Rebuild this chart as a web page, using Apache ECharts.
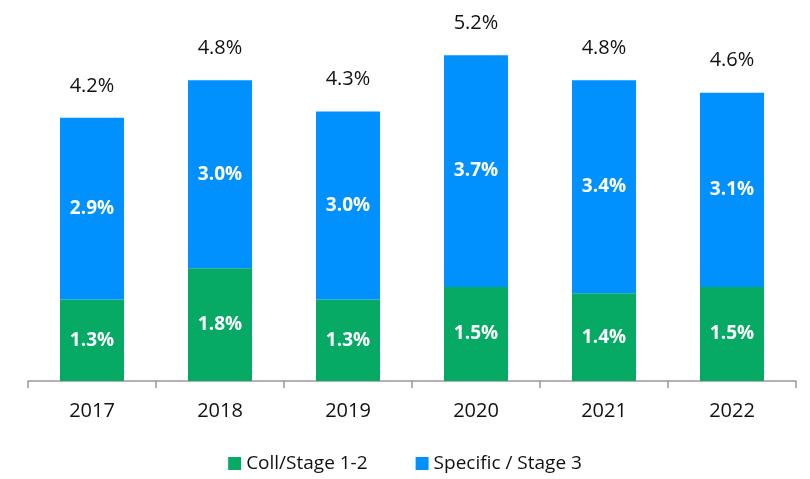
<!DOCTYPE html>
<html>
<head>
<meta charset="utf-8">
<script src="https://cdn.jsdelivr.net/npm/echarts@6/dist/echarts.min.js"></script>
<style>
  html, body { margin: 0; padding: 0; background: #fff; }
  #chart { width: 810px; height: 479px; }
</style>
</head>
<body>
<div id="chart"></div>
<script>
// data
const years = ['2017', '2018', '2019', '2020', '2021', '2022'];
const collStage = [1.3, 1.8, 1.3, 1.5, 1.4, 1.5];
const specificStage = [2.9, 3.0, 3.0, 3.7, 3.4, 3.1];
const totals = [4.2, 4.8, 4.3, 5.2, 4.8, 4.6];

const font = 'Open Sans, Liberation Sans, sans-serif';
const chart = echarts.init(document.getElementById('chart'));

const innerLabel = {
    show: true,
    position: 'inside',
    color: '#fff',
    fontWeight: 'bold',
    fontSize: 19,
    fontFamily: font,
    formatter: p => p.value.toFixed(1) + '%'
};

chart.setOption({
    animation: false,
    grid: { left: 28, right: 14, top: 5, bottom: 98 },
    legend: {
        bottom: 1,
        left: 'center',
        itemWidth: 13,
        itemHeight: 13,
        itemGap: 48,
        icon: 'rect',
        textStyle: { fontSize: 19, color: '#111', fontFamily: font },
        data: ['Coll/Stage 1-2', 'Specific / Stage 3']
    },
    xAxis: {
        type: 'category',
        data: years,
        axisLine: { lineStyle: { color: '#999', width: 1.5 } },
        axisTick: { show: true, length: 7, lineStyle: { color: '#999', width: 1.5 } },
        axisLabel: { fontSize: 20, color: '#111', fontFamily: font, margin: 20 }
    },
    yAxis: {
        type: 'value',
        min: 0,
        max: 6,
        show: false,
        splitLine: { show: false }
    },
    series: [
        {
            name: 'Coll/Stage 1-2',
            type: 'bar',
            stack: 'total',
            barWidth: '50%',
            itemStyle: { color: '#06AA64' },
            label: innerLabel,
            data: collStage
        },
        {
            name: 'Specific / Stage 3',
            type: 'bar',
            stack: 'total',
            itemStyle: { color: '#0091FF' },
            label: innerLabel,
            data: specificStage
        },
        {
            name: 'Total',
            type: 'bar',
            stack: 'total',
            itemStyle: { color: 'transparent' },
            label: {
                show: true,
                position: 'top',
                distance: 22,
                color: '#111',
                fontSize: 20,
                fontFamily: font,
                formatter: p => totals[p.dataIndex].toFixed(1) + '%'
            },
            data: totals.map(() => 0)
        }
    ]
});
</script>
</body>
</html>
